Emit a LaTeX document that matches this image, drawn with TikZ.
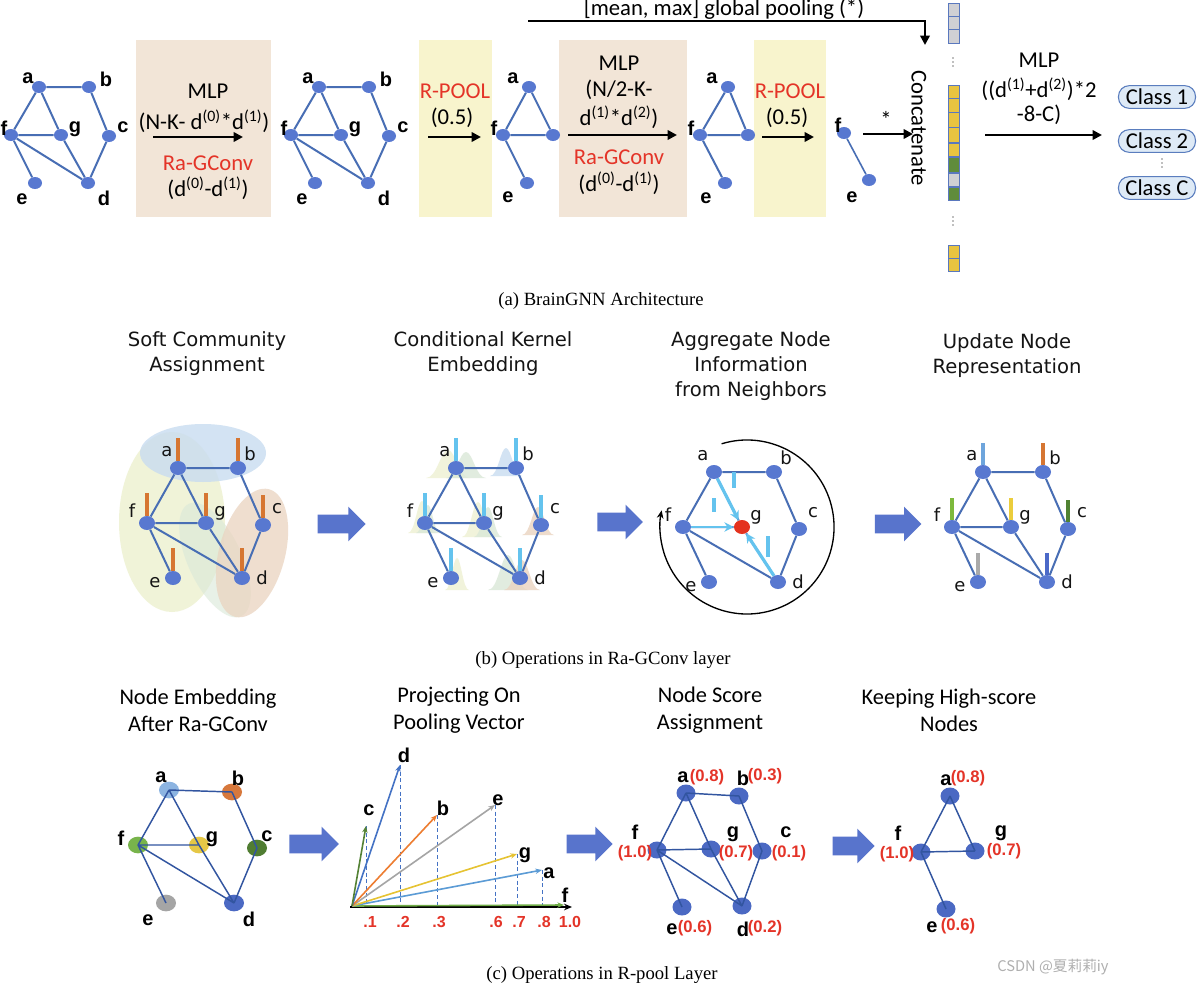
\documentclass[tikz,border=0pt]{standalone}
\usepackage{fontspec}
\setmainfont{Carlito}
\newfontfamily\arialf{Liberation Sans}
\newfontfamily\timesf{Liberation Serif}
\newfontfamily\dejaf{DejaVu Sans}
\newfontfamily\cjkf{Noto Sans CJK SC}
\usetikzlibrary{arrows.meta,shapes.geometric,shapes.arrows}
\definecolor{nodeblue}{RGB}{88,120,208}
\definecolor{edgeblue}{RGB}{72,110,180}
\definecolor{peachbg}{RGB}{242,229,215}
\definecolor{yellowbg}{RGB}{248,244,205}
\definecolor{redtxt}{RGB}{228,52,40}
\definecolor{rednode}{RGB}{228,50,30}
\definecolor{bigblue}{RGB}{88,116,204}
\definecolor{barorange}{RGB}{214,118,50}
\definecolor{barblue}{RGB}{100,195,238}
\definecolor{cellgray}{RGB}{208,208,212}
\definecolor{cellyellow}{RGB}{232,196,64}
\definecolor{cellgreen}{RGB}{96,140,60}
\definecolor{cellborder}{RGB}{90,120,190}
\definecolor{classfill}{RGB}{222,234,246}
\definecolor{classdraw}{RGB}{90,125,190}
\definecolor{txtgray}{RGB}{20,20,20}
\definecolor{vblue}{RGB}{68,114,196}
\definecolor{vdgreen}{RGB}{84,130,53}
\definecolor{vorange}{RGB}{237,125,49}
\definecolor{vgray}{RGB}{165,165,165}
\definecolor{vyellow}{RGB}{230,195,50}
\definecolor{vlblue}{RGB}{91,155,213}
\definecolor{vgreen}{RGB}{112,173,71}
\definecolor{ca}{RGB}{140,180,225}
\definecolor{cb}{RGB}{215,120,60}
\definecolor{cf}{RGB}{120,180,75}
\definecolor{cg}{RGB}{230,200,70}
\definecolor{cc}{RGB}{80,125,50}
\definecolor{ce}{RGB}{165,165,165}
\definecolor{cd}{RGB}{75,105,195}
\definecolor{ua}{RGB}{110,165,220}
\definecolor{uf}{RGB}{125,185,60}
\definecolor{ug}{RGB}{235,205,60}
\definecolor{uc}{RGB}{80,130,50}
\definecolor{ue}{RGB}{170,170,170}
\definecolor{ud}{RGB}{75,105,200}
\definecolor{cedgecol}{RGB}{50,85,160}
\definecolor{ellblue}{RGB}{200,220,240}
\definecolor{ellyellow}{RGB}{238,241,210}
\definecolor{ellgreen}{RGB}{218,232,216}
\definecolor{ellpeach}{RGB}{234,212,192}
\definecolor{wmgray}{RGB}{175,175,175}
\tikzset{
 tnode/.style={ellipse, fill=nodeblue, minimum width=10.5pt, minimum height=9pt, inner sep=0pt},
 tedge/.style={edgeblue, line width=1.5pt},
 tlab/.style={font=\arialf\bfseries\fontsize{15}{15}\selectfont, inner sep=0pt},
 atxt/.style={font=\fontsize{17}{20}\selectfont, inner sep=0pt},
 rtxt/.style={atxt, text=redtxt},
 barr/.style={line width=2.2pt, -{Triangle[length=7pt,width=7pt]}},
 cell/.style={draw=cellborder, line width=0.6pt},
 vdot/.style={circle, fill=gray, inner sep=0pt, minimum size=1.4pt},
 classbox/.style={draw=classdraw, fill=classfill, rounded corners=8pt, line width=0.8pt, minimum width=57.75pt, minimum height=17pt, inner sep=0pt, font=\fontsize{17}{20}\selectfont},
 bnode/.style={ellipse, fill=nodeblue, minimum width=12pt, minimum height=10.5pt, inner sep=0pt},
 bedge/.style={edgeblue, line width=1.5pt},
 blab/.style={font=\dejaf\fontsize{13.5}{13.5}\selectfont, text=txtgray, inner sep=0pt},
 btitle/.style={font=\dejaf\fontsize{14.7}{18.75}\selectfont, text=txtgray, align=center, inner sep=0pt},
 bigarr/.style={single arrow, fill=bigblue, inner xsep=0pt, inner ysep=6.75pt, single arrow head extend=6pt, single arrow head indent=0pt, single arrow tip angle=90},
 bar/.style={line width=2.6pt},
 ctitle/.style={font=\fontsize{16.8}{20.25}\selectfont, align=center, inner sep=0pt},
 cnode/.style={ellipse, minimum width=15pt, minimum height=12.5pt, inner sep=0pt},
 snode/.style={ellipse, fill=cd, minimum width=14.25pt, minimum height=12.75pt, inner sep=0pt},
 cedge/.style={cedgecol, line width=1.1pt},
 clab/.style={font=\arialf\bfseries\fontsize{15}{15}\selectfont, inner sep=0pt},
 score/.style={font=\arialf\bfseries\fontsize{12.5}{12.5}\selectfont, text=redtxt, inner sep=0pt},
 ticklab/.style={font=\arialf\bfseries\fontsize{12}{12}\selectfont, text=redtxt, inner sep=0pt},
 captxt/.style={font=\timesf\fontsize{14}{14}\selectfont, inner sep=0pt},
 vec/.style={line width=1.2pt, -{Stealth[length=5pt,width=4pt]}},
 proj/.style={vblue, line width=0.7pt, dash pattern=on 3pt off 2pt},
 aggarr/.style={barblue, -{Stealth[length=7pt,width=7pt]}},
}
\newcommand\topgraph[2]{%
\begin{scope}[shift={(#2,0)}]
\node[tnode] (#1a) at (39,87) {};
\node[tnode] (#1b) at (89,87) {};
\node[tnode] (#1f) at (11,135) {};
\node[tnode] (#1g) at (61,135) {};
\node[tnode] (#1c) at (109,136) {};
\node[tnode] (#1e) at (35,183) {};
\node[tnode] (#1d) at (88,183) {};
\draw[tedge] (#1a)--(#1b) (#1a)--(#1f) (#1a)--(#1g) (#1f)--(#1g) (#1f)--(#1e) (#1f)--(#1d) (#1g)--(#1d) (#1b)--(#1c) (#1c)--(#1d);
\node[tlab] (#1la) at (28,78) {a};
\node[tlab] (#1lb) at (106,79) {b};
\node[tlab] (#1lf) at (4,128) {f};
\node[tlab] (#1lg) at (75,129) {g};
\node[tlab] (#1lc) at (123,127) {c};
\node[tlab] (#1le) at (22,199) {e};
\node[tlab] (#1ld) at (104,198) {d};
\end{scope}}
\newcommand\bgraph[4]{%
\begin{scope}[shift={(#2,#3)}]
\node[bnode] (#1a) at (178,468) {};
\node[bnode] (#1b) at (238,468) {};
\node[bnode] (#1f) at (147,523) {};
\node[bnode,fill=#4] (#1g) at (206,523) {};
\node[bnode] (#1c) at (263,525) {};
\node[bnode] (#1e) at (173,578) {};
\node[bnode] (#1d) at (242,578) {};
\draw[bedge] (#1a)--(#1b) (#1a)--(#1f) (#1a)--(#1g) (#1f)--(#1g) (#1f)--(#1e) (#1f)--(#1d) (#1g)--(#1d) (#1b)--(#1c) (#1c)--(#1d);
\node[blab] (#1la) at (167,452) {a};
\node[blab] (#1lb) at (250,454) {b};
\node[blab] (#1lf) at (132,511) {f};
\node[blab] (#1lg) at (220,513) {g};
\node[blab] (#1lc) at (277,509) {c};
\node[blab] (#1le) at (155,583) {e};
\node[blab] (#1ld) at (262,578) {d};
\end{scope}}
\newcommand\bellshape[5]{%
\fill[#5, opacity=0.8] ({#1-#3},#2) .. controls ({#1-#3/2},#2) and ({#1-#3/3},{#2-#4}) .. (#1,{#2-#4}) .. controls ({#1+#3/3},{#2-#4}) and ({#1+#3/2},#2) .. ({#1+#3},#2) -- cycle;}
\begin{document}
\begin{tikzpicture}[x=0.75pt,y=-0.75pt]
\useasboundingbox[fill=white] (0,0) rectangle (1197,985);
% ================= (a) =================
\fill[peachbg] (136,40) rectangle (271,217);
\fill[yellowbg] (419,40) rectangle (492,217);
\fill[peachbg] (559,40) rectangle (687,217);
\fill[yellowbg] (754,40) rectangle (826,217);
\topgraph{A}{0}
\topgraph{B}{280}
% pooled graph 1
\node[tnode] (Ca) at (529,87) {};
\node[tnode] (Cf) at (503,135) {};
\node[tnode] (Cg) at (553,135) {};
\node[tnode] (Ce) at (527,183) {};
\draw[tedge] (Ca)--(Cf) (Ca)--(Cg) (Cf)--(Cg) (Cf)--(Ce);
\node[tlab] (Cla) at (513,78) {a};
\node[tlab] (Clf) at (494,128) {f};
\node[tlab] (Cle) at (508,197) {e};
% pooled graph 2
\node[tnode] (Da) at (728,87) {};
\node[tnode] (Df) at (700,135) {};
\node[tnode] (Dg) at (748,135) {};
\node[tnode] (De) at (725,183) {};
\draw[tedge] (Da)--(Df) (Da)--(Dg) (Df)--(Dg) (Df)--(De);
\node[tlab] (Dla) at (712,78) {a};
\node[tlab] (Dlf) at (691,128) {f};
\node[tlab] (Dle) at (706,198) {e};
% pooled graph 3
\node[tnode] (Gf) at (844,133) {};
\node[tnode] (Ge) at (869,180) {};
\draw[tedge, line width=1.2pt] (Gf)--(Ge);
\node[tlab] (Glf) at (838,125) {f};
\node[tlab] (Gle) at (852,197) {e};
% box texts
\node[atxt] (t1a) at (208,91) {MLP};
\node[atxt] (t1b) at (204,121) {(N-K- d\textsuperscript{(0)}*d\textsuperscript{(1)})};
\node[rtxt] (t1c) at (208,163) {Ra-GConv};
\node[atxt] (t1d) at (208,188) {(d\textsuperscript{(0)}-d\textsuperscript{(1)})};
\coordinate (m1s) at (153,137); \coordinate (m1e) at (243,137);
\draw[barr] (m1s) -- (m1e);
\node[rtxt] (t2a) at (455,91) {R-POOL};
\node[atxt] (t2b) at (452,118) {(0.5)};
\coordinate (p1s) at (428,137); \coordinate (p1e) at (481,137);
\draw[barr] (p1s) -- (p1e);
\node[atxt] (t3a) at (619,63) {MLP};
\node[atxt] (t3b) at (619,90) {(N/2-K-};
\node[atxt] (t3c) at (619,117) {d\textsuperscript{(1)}*d\textsuperscript{(2)})};
\node[rtxt] (t3d) at (619,157) {Ra-GConv};
\node[atxt] (t3e) at (619,183) {(d\textsuperscript{(0)}-d\textsuperscript{(1)})};
\coordinate (m2s) at (568,135); \coordinate (m2e) at (677,135);
\draw[barr] (m2s) -- (m2e);
\node[rtxt] (t4a) at (790,91) {R-POOL};
\node[atxt] (t4b) at (787,118) {(0.5)};
\coordinate (p2s) at (762,137); \coordinate (p2e) at (814,137);
\draw[barr] (p2s) -- (p2e);
% star arrow and concatenate
\coordinate (sts) at (863,134); \coordinate (ste) at (913,134);
\draw[barr, line width=2pt] (sts) -- (ste);
\node[atxt] (star) at (886,119) {*};
\node[atxt, rotate=-90] (concat) at (919,128) {Concatenate};
% global pooling
\coordinate (gps) at (528,21); \coordinate (gpe) at (925,45);
\draw[line width=2pt, -{Triangle[length=7pt,width=7pt]}] (gps) -| (gpe);
\node[atxt, anchor=base] (gptxt) at (724,15.5) {[mean, max] global pooling (*)};
% vector cells
\foreach \ya/\yb/\cl in {3/16/cellgray, 16/29/cellgray, 29/43/cellgray, 85/98/cellyellow, 98/112/cellyellow, 112/127/cellyellow, 127/142/cellyellow, 143/156/cellyellow, 157/172/cellgreen, 173/186/cellgray, 187/200/cellgreen, 245/258/cellyellow, 258/271/cellyellow}
  \filldraw[cell, fill=\cl] (948,\ya) rectangle (959,\yb);
\foreach \x/\y/\nm in {953/58/va, 953/62/vb, 953/66/vc, 953/217/vd, 953/221/ve, 953/225/vf, 1162/159/vg, 1162/163/vh, 1162/167/vi}
  \node[vdot] (dot\nm) at (\x,\y) {};
% final MLP
\node[atxt] (t5a) at (1039,60) {MLP};
\node[atxt] (t5b) at (1039,89) {((d\textsuperscript{(1)}+d\textsuperscript{(2)})*2};
\node[atxt] (t5c) at (1039,115) {-8-C)};
\coordinate (m3s) at (985,135); \coordinate (m3e) at (1102,135);
\draw[barr] (m3s) -- (m3e);
\node[classbox] (cl1) at (1157,97) {Class 1};
\node[classbox] (cl2) at (1157,141) {Class 2};
\node[classbox] (cl3) at (1157,188) {Class C};
\node[captxt] (capa) at (601,301) {(a) BrainGNN Architecture};
% ================= (b) =================
\node[btitle] (bt1) at (207,354) {Soft Community\\Assignment};
\node[btitle] (bt2) at (483,354) {Conditional Kernel\\Embedding};
\node[btitle] (bt3) at (751,366) {Aggregate Node\\Information\\from Neighbors};
\node[btitle] (bt4) at (1007,356) {Update Node\\Representation};
% b1 community ellipses
\fill[ellyellow, opacity=0.85] (172,522) ellipse [x radius=53, y radius=90];
\fill[ellblue, opacity=0.8] (203,453) ellipse [x radius=63, y radius=29];
\fill[ellgreen, opacity=0.6, rotate around={25:(215,560)}] (215,560) ellipse [x radius=27, y radius=62];
\fill[ellpeach, opacity=0.75, rotate around={-15:(252,553)}] (252,553) ellipse [x radius=33, y radius=66];
\bgraph{P}{0}{0}{nodeblue}
\foreach \n in {a,b,f,g,c,e,d} \draw[bar, barorange] (P\n.north) -- ++(0,-23);
% b2 kernel bells
\bellshape{448}{478}{22}{28}{ellyellow}
\bellshape{466}{478}{20}{26}{ellgreen}
\bellshape{506}{476}{16}{28}{ellblue}
\bellshape{538}{535}{16}{28}{ellpeach}
\bellshape{508}{590}{20}{35}{ellgreen}
\bellshape{522}{590}{18}{30}{ellpeach}
\bellshape{457}{590}{12}{32}{ellyellow}
\bellshape{422}{533}{14}{32}{ellyellow}
\bellshape{428}{533}{12}{28}{ellgreen}
\bellshape{478}{537}{16}{35}{ellyellow}
\bellshape{488}{537}{14}{30}{ellgreen}
\bgraph{Q}{278}{0}{nodeblue}
\foreach \n in {a,b,f,g,c,e,d} \draw[bar, barblue] (Q\n.north) -- ++(0,-23);
\node[bigarr, minimum height=36pt] (ba1) at (337,524) {};
% b3 aggregation
\bgraph{R}{536}{4}{rednode}
\coordinate (arcs) at (721.6,443.8);
\draw[line width=1pt, -{Stealth[length=6pt,width=5pt]}] (arcs) arc[start angle=-107, end angle=191, radius=87];
\draw[aggarr, line width=2.4pt] (Ra) -- (Rg);
\draw[aggarr, line width=1.4pt] (Rf) -- (Rg);
\draw[aggarr, line width=2.4pt] (Rd) -- (Rg);
\coordinate (ag1s) at (734,472); \coordinate (ag1e) at (734,488);
\coordinate (ag2s) at (714,498); \coordinate (ag2e) at (714,512);
\coordinate (ag3s) at (768,536); \coordinate (ag3e) at (768,557);
\draw[barblue, line width=2.4pt] (ag1s) -- (ag1e) (ag2s) -- (ag2e) (ag3s) -- (ag3e);
\node[bigarr, minimum height=34pt] (ba2) at (615.5,522) {};
% b4 update
\bgraph{S}{805}{4}{nodeblue}
\draw[bar, ua] (Sa.north) -- ++(0,-22);
\draw[bar, barorange] (Sb.north) -- ++(0,-22);
\draw[bar, uf] (Sf.north) -- ++(0,-22);
\draw[bar, ug] (Sg.north) -- ++(0,-22);
\draw[bar, uc] (Sc.north) -- ++(0,-22);
\draw[bar, ue] (Se.north) -- ++(0,-22);
\draw[bar, ud] (Sd.north) -- ++(0,-22);
\node[bigarr, minimum height=35pt] (ba3) at (893.5,524) {};
\node[captxt] (capb) at (603,660) {(b) Operations in Ra-GConv layer};
% ================= (c) =================
\node[ctitle] (ct1) at (198,710.5) {Node Embedding\\After Ra-GConv};
\node[ctitle] (ct2) at (459,710.5) {Projecting On\\Pooling Vector};
\node[ctitle] (ct3) at (710,710.5) {Node Score\\Assignment};
\node[ctitle] (ct4) at (949,710.5) {Keeping High-score\\Nodes};
% c1
\node[cnode, fill=ca] (Ea) at (169,790) {};
\node[cnode, fill=cb] (Eb) at (232,792) {};
\node[cnode, fill=cf] (Ef) at (138,845) {};
\node[cnode, fill=cg] (Eg) at (199,845) {};
\node[cnode, fill=cc] (Ec) at (257,848) {};
\node[cnode, fill=ce] (Ee) at (166,903) {};
\node[cnode, fill=cd] (Ed) at (234,903) {};
\draw[cedge] (Ea.center)--(Eb.center) (Ea.center)--(Ef.center) (Ea.center)--(Eg.center) (Ef.center)--(Eg.center) (Ef.center)--(Ee.center) (Ef.center)--(Ed.center) (Eg.center)--(Ed.center) (Eb.center)--(Ec.center) (Ec.center)--(Ed.center);
\node[clab] (Ela) at (161,777) {a};
\node[clab] (Elb) at (238,778) {b};
\node[clab] (Elf) at (121,838) {f};
\node[clab] (Elg) at (212,839) {g};
\node[clab] (Elc) at (267,836) {c};
\node[clab] (Ele) at (148,920) {e};
\node[clab] (Eld) at (249,919) {d};
\node[bigarr, minimum height=37pt] (ca1) at (309.5,844) {};
% c2 projection plot
\coordinate (org) at (352,906);
\coordinate (axs) at (350,907); \coordinate (axe) at (572,907);
\coordinate (vd) at (400,765);
\coordinate (vc) at (366,826);
\coordinate (vb) at (437,815);
\coordinate (ve) at (495,805);
\coordinate (vg) at (517,854);
\coordinate (va) at (542,870);
\coordinate (vf) at (564,905);
\foreach \p in {vc,vd,vb,ve,vg,va} \draw[proj] (\p) -- (\p |- axs);
\draw[line width=1pt, -{Stealth[length=6pt,width=5pt]}] (axs) -- (axe);
\draw[vec, vgreen] (org) -- (vf);
\draw[vec, vlblue] (org) -- (va);
\draw[vec, vyellow] (org) -- (vg);
\draw[vec, vgray] (org) -- (ve);
\draw[vec, vorange] (org) -- (vb);
\draw[vec, vblue] (org) -- (vd);
\draw[vec, vdgreen] (org) -- (vc);
\node[clab] (vlc) at (369,810) {c};
\node[clab] (vld) at (404,755) {d};
\node[clab] (vlb) at (443,808) {b};
\node[clab] (vle) at (498,800) {e};
\node[clab] (vlg) at (525,855) {g};
\node[clab] (vla) at (549,873) {a};
\node[clab] (vlf) at (565,895) {f};
\node[ticklab] (k1) at (370,922) {.1};
\node[ticklab] (k2) at (403,922) {.2};
\node[ticklab] (k3) at (439,922) {.3};
\node[ticklab] (k6) at (496,922) {.6};
\node[ticklab] (k7) at (519,922) {.7};
\node[ticklab] (k8) at (544,922) {.8};
\node[ticklab] (k10) at (570,922) {1.0};
\node[bigarr, minimum height=34.5pt] (ca2) at (585,844) {};
% c3 scores
\node[snode] (Fa) at (686,793) {};
\node[snode] (Fb) at (739,796) {};
\node[snode] (Ff) at (657,850) {};
\node[snode] (Fg) at (711,849) {};
\node[snode] (Fc) at (762,851) {};
\node[snode] (Fe) at (682,907) {};
\node[snode] (Fd) at (742,906) {};
\draw[cedge] (Fa.center)--(Fb.center) (Fa.center)--(Ff.center) (Fa.center)--(Fg.center) (Ff.center)--(Fg.center) (Ff.center)--(Fe.center) (Ff.center)--(Fd.center) (Fg.center)--(Fd.center) (Fb.center)--(Fc.center) (Fc.center)--(Fd.center);
\node[clab] (Fla) at (683,777) {a};
\node[score] (Fsa) at (707,777) {(0.8)};
\node[clab] (Flb) at (743,778) {b};
\node[score] (Fsb) at (765,776) {(0.3)};
\node[clab] (Flf) at (635,832) {f};
\node[score] (Fsf) at (635,853) {(1.0)};
\node[clab] (Flg) at (733,834) {g};
\node[score] (Fsg) at (736,853) {(0.7)};
\node[clab] (Flc) at (786,832) {c};
\node[score] (Fsc) at (789,853) {(0.1)};
\node[clab] (Fle) at (672,929) {e};
\node[score] (Fse) at (695,928) {(0.6)};
\node[clab] (Fld) at (743,929) {d};
\node[score] (Fsd) at (765,928) {(0.2)};
\node[bigarr, minimum height=31.5pt] (ca3) at (849,846) {};
% c4 kept nodes
\node[snode] (Ha) at (950,796) {};
\node[snode] (Hf) at (921,852) {};
\node[snode] (Hg) at (975,851) {};
\node[snode] (He) at (946,909) {};
\draw[cedge] (Ha.center)--(Hf.center) (Ha.center)--(Hg.center) (Hf.center)--(Hg.center) (Hf.center)--(He.center);
\node[clab] (Hla) at (946,780) {a};
\node[score] (Hsa) at (968,778) {(0.8)};
\node[clab] (Hlf) at (898,833) {f};
\node[score] (Hsf) at (897,854) {(1.0)};
\node[clab] (Hlg) at (1001,833) {g};
\node[score] (Hsg) at (1004,851) {(0.7)};
\node[clab] (Hle) at (932,927) {e};
\node[score] (Hse) at (958,926) {(0.6)};
\node[captxt] (capc) at (602,975) {(c) Operations in R-pool Layer};
\node[inner sep=0pt, text=wmgray, font=\cjkf\fontsize{11}{11}\selectfont] (wm) at (1053,967) {CSDN @夏莉莉iy};
\end{tikzpicture}
\end{document}
